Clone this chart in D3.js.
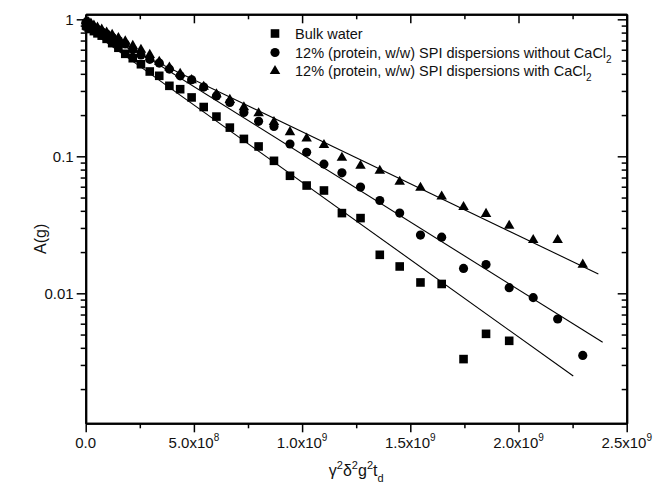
<!DOCTYPE html>
<html>
<head>
<meta charset="utf-8">
<script src="https://cdn.jsdelivr.net/npm/d3@7"></script>
<style>
    body { margin: 0; background: #fff; }
    svg { display: block; font-family: "Liberation Sans", Arial, sans-serif; }
    .axis path, .axis line { stroke: #000; }
</style>
</head>
<body>
<svg id="chart" width="654" height="495"></svg>
<script>
// x values: gamma^2 delta^2 g^2 t_d
var gradX = [1.5e6, 6.0e6, 1.36e7, 2.42e7, 3.78e7, 5.44e7, 7.40e7, 9.67e7, 1.223e8, 1.510e8,
    1.828e8, 2.175e8, 2.553e8, 2.960e8, 3.398e8, 3.867e8, 4.365e8, 4.894e8, 5.453e8, 6.042e8,
    6.661e8, 7.310e8, 7.990e8, 8.700e8, 9.440e8, 1.021e9, 1.101e9, 1.184e9, 1.270e9, 1.359e9,
    1.451e9, 1.547e9, 1.645e9, 1.746e9, 1.850e9, 1.957e9, 2.068e9, 2.181e9, 2.297e9];

var bulkWater = [0.90, 0.89, 0.87, 0.85, 0.82, 0.79, 0.76, 0.72, 0.67, 0.62,
    0.56, 0.52, 0.47, 0.416, 0.387, 0.327, 0.309, 0.269, 0.229, 0.195,
    0.162, 0.134, 0.118, 0.0927, 0.0721, 0.0612, 0.0563, 0.0385, 0.0354, 0.0191,
    0.0157, 0.0120, 0.0117, 0.00331, 0.00506, 0.00450];

var withoutCaCl2 = [0.95, 0.93, 0.92, 0.90, 0.87, 0.84, 0.81, 0.78, 0.74, 0.70,
    0.66, 0.60, 0.55, 0.51, 0.479, 0.433, 0.387, 0.362, 0.320, 0.276,
    0.247, 0.209, 0.180, 0.165, 0.123, 0.107, 0.0877, 0.0758, 0.0596, 0.0476,
    0.0385, 0.0266, 0.0257, 0.0152, 0.0162, 0.0110, 0.0093, 0.00649, 0.00352];

var withCaCl2 = [0.97, 0.96, 0.95, 0.93, 0.90, 0.87, 0.84, 0.80, 0.77, 0.73,
    0.69, 0.64, 0.60, 0.55, 0.49, 0.445, 0.40, 0.36, 0.322, 0.284,
    0.258, 0.228, 0.206, 0.178, 0.150, 0.135, 0.121, 0.0975, 0.0853, 0.0784,
    0.0652, 0.0589, 0.0509, 0.0426, 0.0380, 0.0311, 0.0245, 0.0245, 0.0162];

// fitted lines, start and end points [x, A]
var bulkFit = [[0, 0.870], [2.253e9, 0.00249]];
var withoutFit = [[0, 1.006], [2.389e9, 0.00439]];
var withFit = [[0, 0.866], [2.369e9, 0.01384]];

var legendLabels = ["Bulk water",
    "12% (protein, w/w) SPI dispersions without CaCl",
    "12% (protein, w/w) SPI dispersions with CaCl"];
var legendSubs = ["", "2", "2"];

var xTicks = [0, 5e8, 1e9, 1.5e9, 2e9, 2.5e9];
var xTickBase = ["0.0", "5.0x10", "1.0x10", "1.5x10", "2.0x10", "2.5x10"];
var xTickExp = ["", "8", "9", "9", "9", "9"];
var yTicks = [1, 0.1, 0.01];
var yTickLabels = ["1", "0.1", "0.01"];

var svg = d3.select("#chart"),
    margin = { top: 14.3, right: 27.3, bottom: 71.7, left: 85.7 },
    width = +svg.attr("width") - margin.left - margin.right,
    height = +svg.attr("height") - margin.top - margin.bottom,
    g = svg.append("g").attr("transform", "translate(" + margin.left + "," + margin.top + ")");

var x = d3.scaleLinear().domain([0, 2.5e9]).range([0, width]);
var y = d3.scaleLog().domain([0.001125, 1.088]).range([height, 0]);

var xMinor = d3.range(0, 2.5e9 + 1, 2.5e8).filter(function (d) { return xTicks.indexOf(d) < 0; });
var yMinor = [];
[0.001, 0.01, 0.1].forEach(function (dec) {
    for (var k = 2; k <= 9; k++) {
        var v = +(dec * k).toPrecision(3);
        if (v >= y.domain()[0] && v <= y.domain()[1]) yMinor.push(v);
    }
});

function drawAxis(axis, transform, major) {
    var a = g.append("g").attr("class", "axis")
        .attr("transform", transform)
        .call(axis);
    a.select(".domain").attr("stroke-width", 2);
    a.selectAll(".tick line").attr("stroke-width", 1.5);
    a.selectAll(".tick text").remove();
    return a;
}

// bottom + top
drawAxis(d3.axisBottom(x).tickValues(xTicks).tickSize(9).tickSizeOuter(0), "translate(0," + height + ")");
drawAxis(d3.axisBottom(x).tickValues(xMinor).tickSize(5).tickSizeOuter(0), "translate(0," + height + ")");
drawAxis(d3.axisBottom(x).tickValues(xTicks).tickSize(9).tickSizeOuter(0), "translate(0,0)");
drawAxis(d3.axisBottom(x).tickValues(xMinor).tickSize(5).tickSizeOuter(0), "translate(0,0)");
// left + right
drawAxis(d3.axisLeft(y).tickValues(yTicks).tickSize(9).tickSizeOuter(0), "translate(0,0)");
drawAxis(d3.axisLeft(y).tickValues(yMinor).tickSize(5).tickSizeOuter(0), "translate(0,0)");
drawAxis(d3.axisLeft(y).tickValues(yTicks).tickSize(9).tickSizeOuter(0), "translate(" + width + ",0)");
drawAxis(d3.axisLeft(y).tickValues(yMinor).tickSize(5).tickSizeOuter(0), "translate(" + width + ",0)");

// x tick labels with superscripts
var xl = g.append("g").selectAll("text")
    .data(xTicks)
    .enter().append("text")
    .attr("x", function (d) { return x(d); })
    .attr("y", height + 25)
    .attr("text-anchor", "middle")
    .style("font-size", "15px")
    .attr("fill", "#111");
xl.append("tspan").text(function (d, i) { return xTickBase[i]; });
xl.append("tspan")
    .attr("dy", -7)
    .style("font-size", "10px")
    .text(function (d, i) { return xTickExp[i]; });

g.append("g").selectAll("text")
    .data(yTicks)
    .enter().append("text")
    .attr("x", -12)
    .attr("y", function (d) { return y(d); })
    .attr("dy", "0.36em")
    .attr("text-anchor", "end")
    .style("font-size", "15px")
    .attr("fill", "#111")
    .text(function (d, i) { return yTickLabels[i]; });

// axis titles
var xt = svg.append("text")
    .attr("x", margin.left + width / 2)
    .attr("y", 476)
    .attr("text-anchor", "middle")
    .style("font-size", "16px")
    .attr("fill", "#111");
[["γ", 0], ["2", -7], ["δ", 7], ["2", -7], ["g", 7], ["2", -7], ["t", 7], ["d", 6]].forEach(function (p, i) {
    var sup = (i % 2 === 1);
    xt.append("tspan")
        .attr("dy", p[1])
        .style("font-size", sup ? "11px" : "16px")
        .text(p[0]);
});

svg.append("text")
    .attr("transform", "translate(46," + (margin.top + height / 2 + 20) + ") rotate(-90)")
    .attr("text-anchor", "middle")
    .style("font-size", "16px")
    .attr("fill", "#111")
    .text("A(g)");

// fitted lines
var line = d3.line()
    .x(function (d) { return x(d[0]); })
    .y(function (d) { return y(d[1]); });

[bulkFit, withoutFit, withFit].forEach(function (f) {
    g.append("path")
        .attr("d", line(f))
        .attr("fill", "none")
        .attr("stroke", "#000")
        .attr("stroke-width", 1.1);
});

// data points
var series = [
    { values: bulkWater, symbol: d3.symbol().type(d3.symbolSquare).size(74) },
    { values: withoutCaCl2, symbol: d3.symbol().type(d3.symbolCircle).size(66) },
    { values: withCaCl2, symbol: d3.symbol().type(d3.symbolTriangle).size(48) }
];

series.forEach(function (s) {
    g.append("g").selectAll("path")
        .data(s.values)
        .enter().append("path")
        .attr("d", s.symbol)
        .attr("fill", "#000")
        .attr("transform", function (d, i) {
            return "translate(" + x(gradX[i]) + "," + y(d) + ")";
        });
});

// legend
var legend = svg.append("g");
var legendY = [33.5, 52.5, 71];
series.forEach(function (s, i) {
    legend.append("path")
        .attr("d", s.symbol)
        .attr("fill", "#000")
        .attr("transform", "translate(275," + legendY[i] + ")");
    var t = legend.append("text")
        .attr("x", 295)
        .attr("y", legendY[i] + 5)
        .style("font-size", "14.5px")
        .attr("fill", "#111");
    t.append("tspan").text(legendLabels[i]);
    t.append("tspan")
        .attr("dy", 5)
        .style("font-size", "10px")
        .text(legendSubs[i]);
});
</script>
</body>
</html>
